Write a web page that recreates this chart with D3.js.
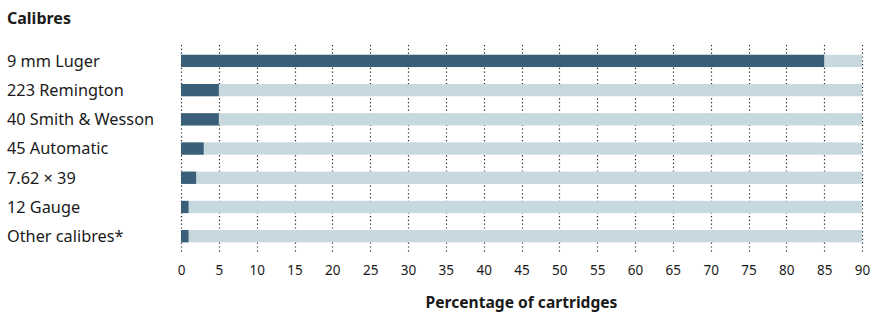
<!DOCTYPE html>
<html>
<head>
<meta charset="utf-8">
<script src="https://cdn.jsdelivr.net/npm/d3@7"></script>
<style>
  body { margin: 0; background: #fff; }
  text { font-family: "Noto Sans", "Open Sans", sans-serif; fill: #1a1a1a; }
</style>
</head>
<body>
<div id="chart"></div>
<script>
// data
const calibres = ["9 mm Luger", "223 Remington", "40 Smith & Wesson", "45 Automatic", "7.62 × 39", "12 Gauge", "Other calibres*"]
const shares = [85, 5, 5, 3, 2, 1, 1]
const maxValue = 90
const tickValues = d3.range(0, 91, 5)

let width = 877
let height = 314
let margin = {top: 46, right: 15, bottom: 64, left: 181}

let svg = d3.select("#chart")
    .append("svg")
    .attr("width", width)
    .attr("height", height)

let x = d3.scaleLinear()
    .domain([0, maxValue])
    .range([margin.left, width - margin.right])

let y = d3.scaleBand()
    .domain(calibres)
    .range([margin.top, margin.top + 29.3 * calibres.length])
    .paddingInner(0.58)
    .paddingOuter(0.3)

// title
svg.append("text")
    .attr("x", 7)
    .attr("y", 24)
    .style("font-size", "16px")
    .style("font-weight", "bold")
    .text("Calibres")

// dotted grid lines
svg.selectAll(".grid")
    .data(tickValues)
    .enter()
    .append("line")
    .attr("x1", d => Math.round(x(d)) + 0.5)
    .attr("x2", d => Math.round(x(d)) + 0.5)
    .attr("y1", 45)
    .attr("y2", 252)
    .attr("stroke", "#222")
    .attr("stroke-width", 1.2)
    .attr("stroke-dasharray", "1.2,2.6")

// background bars (full scale)
svg.selectAll(".bg")
    .data(calibres)
    .enter()
    .append("rect")
    .attr("x", x(0))
    .attr("y", d => y(d))
    .attr("width", x(maxValue) - x(0))
    .attr("height", y.bandwidth())
    .attr("fill", "#c7d8df")

// value bars
svg.selectAll(".bar")
    .data(shares)
    .enter()
    .append("rect")
    .attr("x", x(0))
    .attr("y", (d, i) => y(calibres[i]))
    .attr("width", d => x(d) - x(0))
    .attr("height", y.bandwidth())
    .attr("fill", "#3a5f79")

// category labels
svg.selectAll(".label")
    .data(calibres)
    .enter()
    .append("text")
    .attr("x", 7)
    .attr("y", d => y(d) + y.bandwidth() / 2)
    .attr("dy", "0.36em")
    .style("font-size", "16.3px")
    .text(d => d)

// x axis
let axis = svg.append("g")
    .attr("transform", "translate(0,252)")
    .call(d3.axisBottom(x).tickValues(tickValues).tickSize(0).tickPadding(13))
axis.select(".domain").remove()
axis.selectAll("text")
    .style("font-size", "13.5px")
    .style("font-family", "'Noto Sans', sans-serif")
    .attr("fill", "#1a1a1a")

// axis title
svg.append("text")
    .attr("x", (x(0) + x(maxValue)) / 2)
    .attr("y", 308)
    .attr("text-anchor", "middle")
    .style("font-size", "15.6px")
    .style("font-weight", "bold")
    .text("Percentage of cartridges")
</script>
</body>
</html>
